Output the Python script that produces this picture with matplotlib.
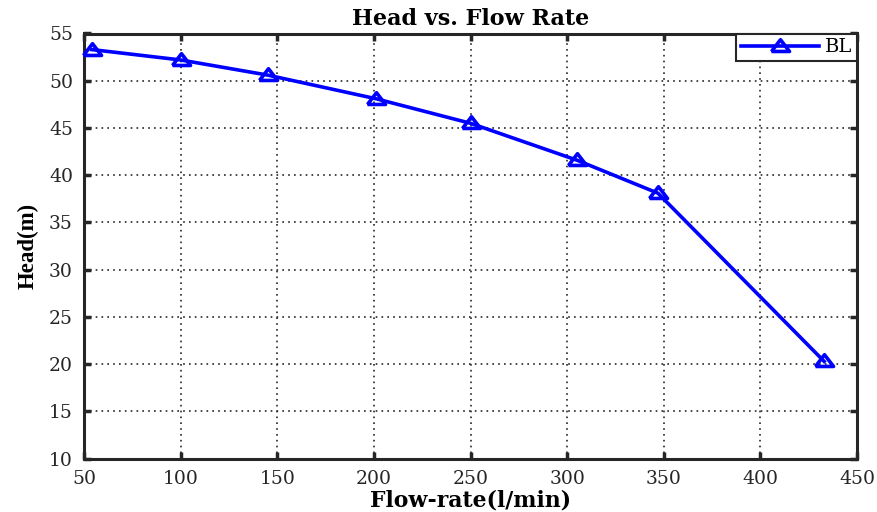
import matplotlib
matplotlib.use("Agg")
import matplotlib.pyplot as plt

flow = [54, 100, 145, 201, 250, 305, 347, 433]
head = [53.3, 52.2, 50.6, 48.1, 45.5, 41.6, 38.1, 20.3]
xticks = [50, 100, 150, 200, 250, 300, 350, 400, 450]
yticks = [10, 15, 20, 25, 30, 35, 40, 45, 50, 55]

plt.rcParams['font.family'] = ['DejaVu Serif']

fig = plt.figure(figsize=(8.77, 5.12), dpi=100)
ax = fig.add_axes([84 / 877, 1 - 458.7 / 512, (857 - 84) / 877, (458.7 - 33.5) / 512])

tri = [(-1.0, -0.55), (1.0, -0.55), (0.0, 0.75), (-1.0, -0.55)]

ax.plot(flow, head, color='#0000ff', linewidth=2.6, marker=tri, markersize=13,
        markerfacecolor='none', markeredgecolor='#0000ff', markeredgewidth=2.6,
        label='BL', clip_on=False, zorder=3)

ax.set_xlim(50, 450)
ax.set_ylim(10, 55)
ax.set_xticks(xticks)
ax.set_yticks(yticks)
ax.set_xticklabels([str(v) for v in xticks], fontsize=13.5)
ax.set_yticklabels([str(v) for v in yticks], fontsize=13.5)
ax.tick_params(axis='x', direction='in', length=5, width=2.5, top=True, pad=8,
               colors='#262626')
ax.tick_params(axis='y', direction='in', length=5, width=2.5, right=True, pad=8,
               colors='#262626')
for sp in ax.spines.values():
    sp.set_linewidth(2.2)
    sp.set_color('#262626')
ax.grid(True, linestyle=(0, (1, 2.5)), color='#262626', linewidth=1.2)

ax.set_title('Head vs. Flow Rate', fontsize=16, fontweight='bold', pad=6)
ax.set_xlabel('Flow-rate(l/min)', fontsize=15.8, fontweight='bold', labelpad=1)
ax.set_ylabel('Head(m)', fontsize=16.5, fontweight='bold', labelpad=7,
              family=['Liberation Serif', 'DejaVu Serif'])

leg = ax.legend(loc='upper right', fontsize=14, frameon=True, fancybox=False,
                borderaxespad=0, handlelength=4.0, borderpad=0.25, handletextpad=0.3)
leg.get_frame().set_edgecolor('#262626')
leg.get_frame().set_linewidth(1.5)
leg.get_frame().set_alpha(1)

fig.savefig('out.png', dpi=100)
